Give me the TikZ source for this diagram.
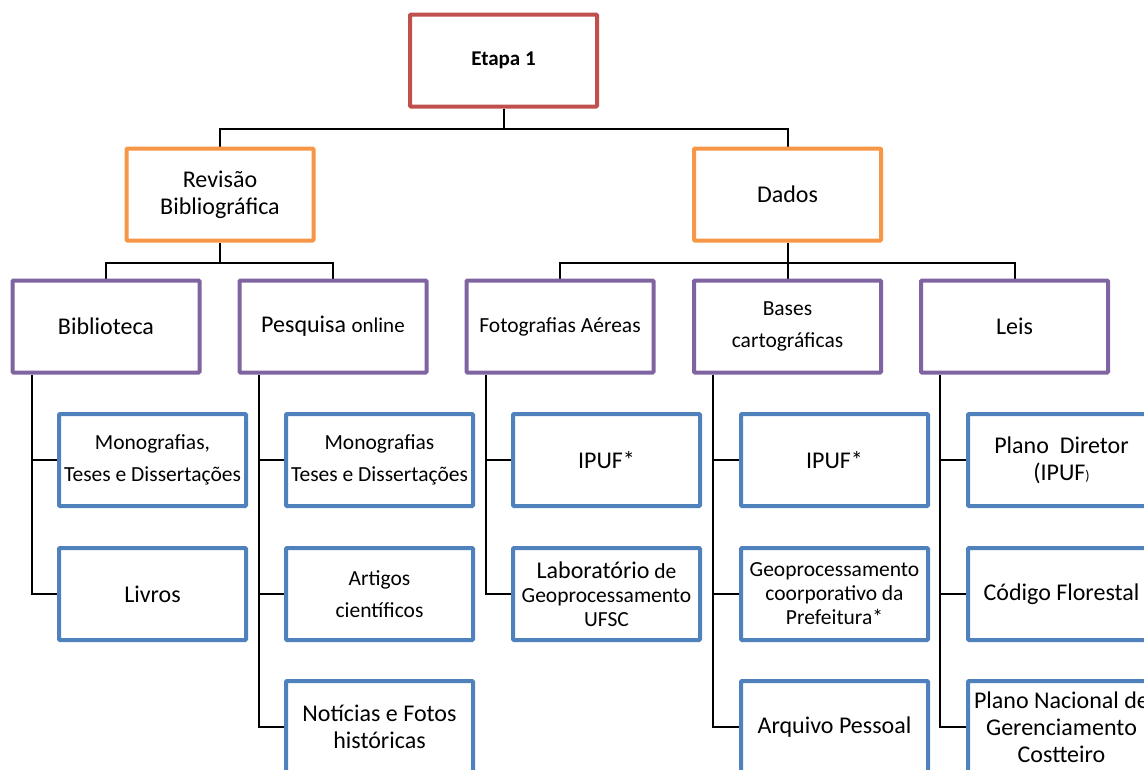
\documentclass[tikz,border=0pt]{standalone}
\usepackage{fontspec}
\setmainfont{Carlito}
\usetikzlibrary{backgrounds}
\definecolor{cRed}{HTML}{C0504D}
\definecolor{cOrange}{HTML}{F79646}
\definecolor{cPurple}{HTML}{8064A2}
\definecolor{cBlue}{HTML}{4F81BD}
\tikzset{
  box/.style={draw, line width=4pt, rounded corners=1pt, fill=white, minimum width=187pt, minimum height=92pt, inner sep=0pt, align=center, text=black},
  lvlzero/.style={box, draw=cRed, font=\fontsize{21}{24}\selectfont\bfseries},
  lvlone/.style={box, draw=cOrange, font=\fontsize{24}{27}\selectfont},
  lvltwo/.style={box, draw=cPurple, font=\fontsize{24}{27}\selectfont},
  lvlthree/.style={box, draw=cBlue, font=\fontsize{24}{27}\selectfont},
  small/.style={font=\fontsize{21.5}{32}\selectfont},
  conn/.style={draw=black, line width=2pt},
}
\begin{document}
\begin{tikzpicture}[x=1pt,y=1pt]
\useasboundingbox (0,0) rectangle (1144,-769);
\clip (0,0) rectangle (1144,-769);
% level 0
\node[lvlzero] (etapa) at (503.5,-60.5) {Etapa 1};
% level 1
\node[lvlone] (rev) at (220,-194.5) {Revisão\\Bibliográfica};
\node[lvlone] (dados) at (787.5,-194.5) {Dados};
% level 2
\node[lvltwo] (bib) at (106,-326.5) {Biblioteca};
\node[lvltwo] (pesq) at (333,-326.5) {Pesquisa {\fontsize{21}{24}\selectfont online}};
\node[lvltwo, small] (foto) at (560,-326.5) {Fotografias Aéreas};
\node[lvltwo, small] (bases) at (787.5,-326.5) {Bases\\cartográficas};
\node[lvltwo] (leis) at (1014.5,-326.5) {Leis};
% level 3, row 1
\node[lvlthree, small] (monoa) at (152.5,-460) {Monografias,\\Teses e Dissertações};
\node[lvlthree, small] (monob) at (379.5,-460) {Monografias\\Teses e Dissertações};
\node[lvlthree] (ipufa) at (606.5,-460) {IPUF*};
\node[lvlthree] (ipufb) at (834.5,-460) {IPUF*};
\node[lvlthree] (plano) at (1061.5,-460) {Plano~~Diretor\\(IPUF{\fontsize{14}{14}\selectfont)}};
% row 2
\node[lvlthree] (livros) at (152.5,-594) {Livros};
\node[lvlthree, small] (artigos) at (379.5,-594) {Artigos\\científicos};
\node[lvlthree, font=\fontsize{21.5}{24}\selectfont] (lab) at (606.5,-594) {{\fontsize{24}{24}\selectfont Laboratório} de\\Geoprocessamento\\UFSC};
\node[lvlthree, font=\fontsize{21.5}{24}\selectfont] (geo) at (834.5,-594) {Geoprocessamento\\coorporativo da\\Prefeitura*};
\node[lvlthree] (codigo) at (1061.5,-594) {Código Florestal};
% row 3
\node[lvlthree] (noticias) at (379.5,-727) {Notícias e Fotos\\históricas};
\node[lvlthree] (arquivo) at (834.5,-727) {Arquivo Pessoal};
\node[lvlthree] (pnac) at (1061.5,-727) {Plano Nacional de\\Gerenciamento\\Costteiro};
\begin{scope}[on background layer]
% connectors level 0 -> 1
\draw[conn] (etapa.south) -- ++(0,-20) -| (rev.north);
\draw[conn] (etapa.south) -- ++(0,-20) -| (dados.north);
% level 1 -> 2
\draw[conn] (rev.south) -- ++(0,-20) -| (bib.north);
\draw[conn] (rev.south) -- ++(0,-20) -| (pesq.north);
\draw[conn] (dados.south) -- ++(0,-20) -| (foto.north);
\draw[conn] (dados.south) -- (bases.north);
\draw[conn] (dados.south) -- ++(0,-20) -| (leis.north);
% level 2 -> 3
\draw[conn] ([xshift=21pt]bib.south west) |- (monoa.west);
\draw[conn] ([xshift=21pt]bib.south west) |- (livros.west);
\draw[conn] ([xshift=21pt]pesq.south west) |- (monob.west);
\draw[conn] ([xshift=21pt]pesq.south west) |- (artigos.west);
\draw[conn] ([xshift=21pt]pesq.south west) |- (noticias.west);
\draw[conn] ([xshift=21pt]foto.south west) |- (ipufa.west);
\draw[conn] ([xshift=21pt]foto.south west) |- (lab.west);
\draw[conn] ([xshift=21pt]bases.south west) |- (ipufb.west);
\draw[conn] ([xshift=21pt]bases.south west) |- (geo.west);
\draw[conn] ([xshift=21pt]bases.south west) |- (arquivo.west);
\draw[conn] ([xshift=21pt]leis.south west) |- (plano.west);
\draw[conn] ([xshift=21pt]leis.south west) |- (codigo.west);
\draw[conn] ([xshift=21pt]leis.south west) |- (pnac.west);
\end{scope}
\end{tikzpicture}
\end{document}
